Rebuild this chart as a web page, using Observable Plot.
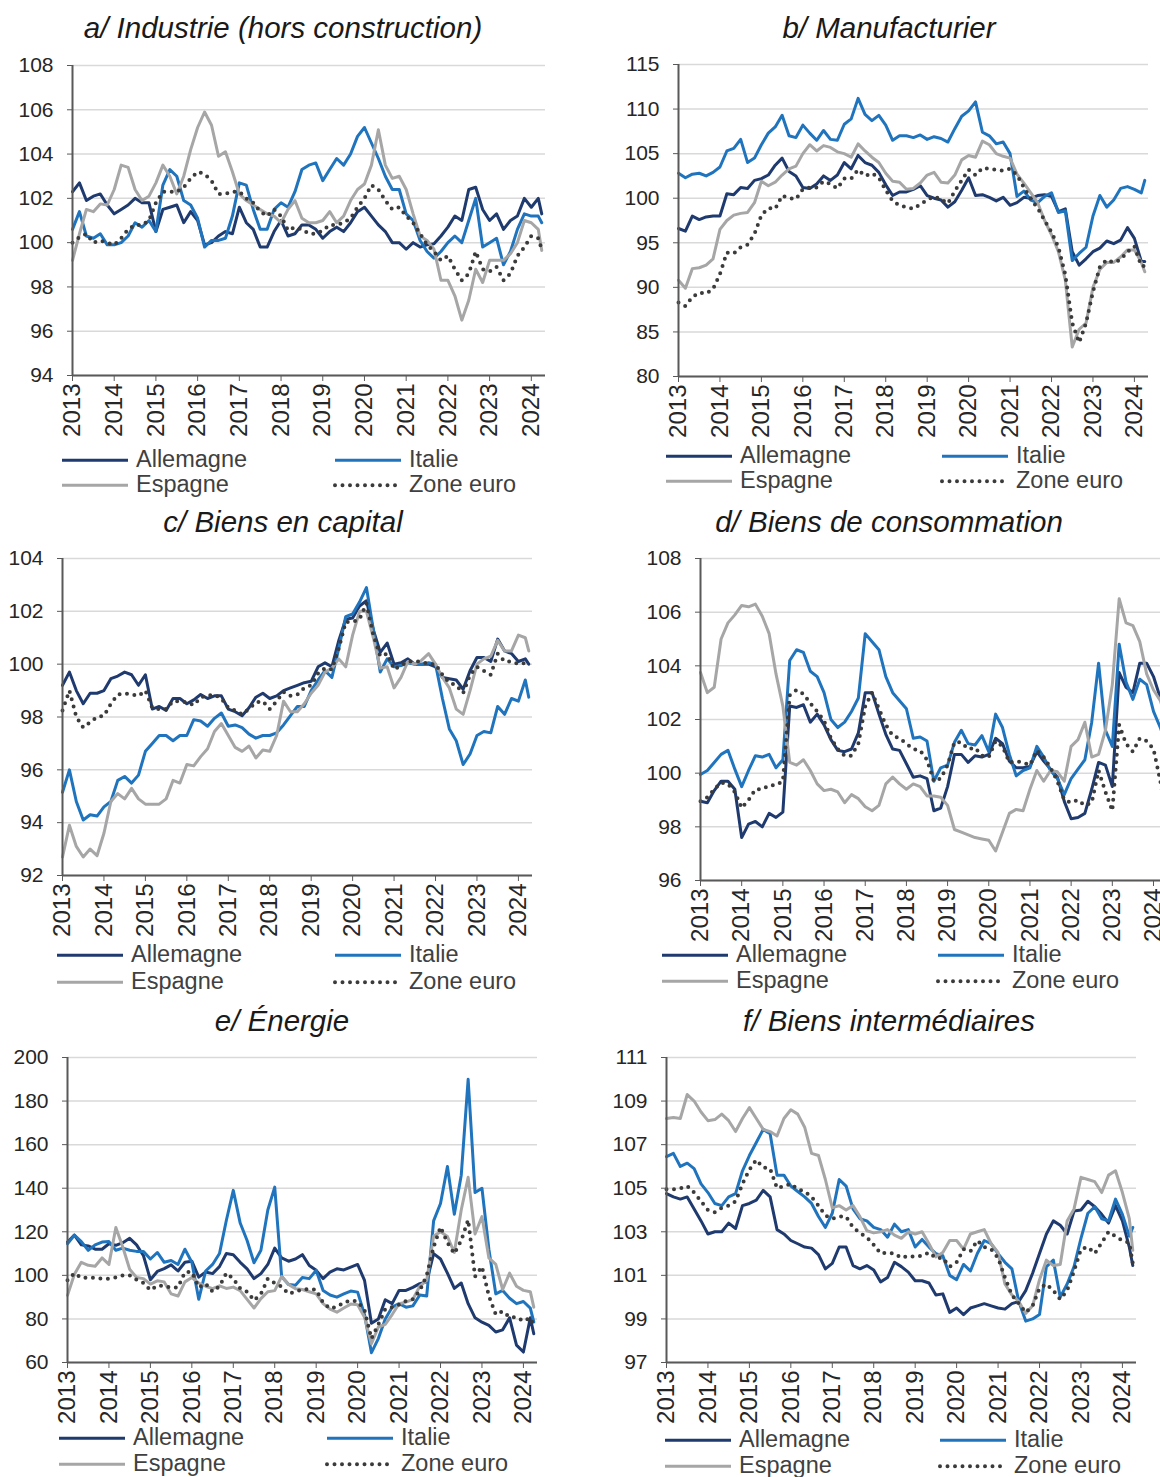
<!DOCTYPE html>
<html lang="fr">
<head>
<meta charset="utf-8">
<script src="https://cdn.jsdelivr.net/npm/d3@7"></script>
<script src="https://cdn.jsdelivr.net/npm/@observablehq/plot@0.6"></script>
<style>
  html, body { margin: 0; padding: 0; background: #fff; overflow: hidden; }
  body { width: 1160px; height: 1477px; position: relative; font-family: "Liberation Sans", Arial, sans-serif; }
  .title { position: absolute; font-style: italic; font-size: 29.5px; line-height: 1; color: #1a1a1a; white-space: nowrap; transform: translate(-50%, -50%); }
  .leg { position: absolute; display: flex; align-items: center; font-size: 23.5px; line-height: 1; color: #404040; white-space: nowrap; transform: translateY(-50%); }
  .leg svg { display: block; margin-right: 6px; }
</style>
</head>
<body>
<script>
// Month offsets from January 2013 (every second month, plus the last month available).
const MONTHS = d3.range(0, 135, 2).concat([135]);
const YEARS = [2013, 2014, 2015, 2016, 2017, 2018, 2019, 2020, 2021, 2022, 2023, 2024];
const SERIES = ["Allemagne", "Italie", "Espagne", "Zone euro"];

// a/ Industrie (hors construction)
const indDE = [102.3,102.7,101.9,102.1,102.2,101.7,101.3,101.5,101.7,102.0,101.8,101.8,100.5,101.5,101.6,101.7,100.9,101.4,101.0,99.9,100.0,100.3,100.5,100.4,101.6,100.9,100.6,99.8,99.8,100.5,101.0,100.3,100.4,100.8,100.8,100.6,100.2,100.5,100.7,100.5,100.9,101.4,101.6,101.2,100.8,100.5,100.0,100.0,99.7,100.0,99.8,99.9,99.95,100.3,100.7,101.2,101.0,102.4,102.5,101.5,101.0,101.3,100.6,101.0,101.2,102.0,101.6,102.0,101.3];
const indIT = [100.6,101.4,100.3,100.2,100.4,99.9,99.9,100.0,100.3,100.9,100.7,101.0,100.5,102.6,103.3,103.0,101.9,101.7,101.1,99.8,100.1,100.1,100.2,101.2,102.7,102.6,101.5,100.6,100.6,101.5,101.8,101.6,102.3,103.3,103.5,103.6,102.8,103.3,103.8,103.5,104.0,104.8,105.2,104.5,103.8,103.0,102.4,102.4,101.3,101.0,100.1,99.6,99.3,99.6,100.0,100.3,100.0,101.0,102.0,99.8,100.0,100.2,99.0,99.6,100.6,101.3,101.2,101.2,100.9];
const indES = [99.2,100.4,101.5,101.4,101.75,101.7,102.4,103.5,103.4,102.4,101.9,102.1,102.7,103.5,103.0,102.2,103.0,104.2,105.2,105.9,105.3,103.9,104.1,103.2,102.2,101.9,101.7,101.5,101.3,101.2,100.9,101.5,101.9,101.1,100.9,100.9,101.0,101.4,100.9,101.2,101.9,102.4,102.65,103.5,105.1,103.5,102.9,103.0,102.4,101.3,100.3,100.1,99.7,98.3,98.3,97.6,96.5,97.4,98.8,98.2,99.2,99.2,99.2,99.5,100.0,101.0,100.9,100.6,99.65];
const indEA = [100.0,100.25,100.4,100.0,100.1,100.0,99.9,100.2,100.6,100.8,100.8,101.0,101.8,102.3,102.3,102.3,102.5,102.9,103.2,103.1,102.8,102.2,102.2,102.3,102.3,102.0,101.8,101.4,101.2,101.5,101.2,100.55,100.7,100.6,100.4,100.4,100.55,100.8,100.8,100.9,101.1,101.6,102.0,102.6,102.4,101.9,101.5,101.6,101.2,100.9,100.4,99.9,99.6,99.2,99.4,98.8,98.3,98.6,99.6,98.8,98.7,98.9,98.3,98.6,99.4,99.8,100.3,100.2,99.7];

// b/ Manufacturier
const manDE = [96.6,96.3,98.0,97.6,97.9,98.0,98.0,100.5,100.4,101.2,101.1,102.0,102.2,102.6,103.7,104.5,103.0,102.5,101.2,101.1,101.6,102.5,102.0,102.6,104.0,103.3,104.8,104.0,103.7,102.9,101.5,100.3,100.7,100.7,101.0,101.4,100.3,100.0,99.8,99.0,99.6,100.9,102.3,100.3,100.4,100.1,99.7,100.1,99.2,99.5,100.1,100.0,100.3,100.4,100.2,98.5,98.8,94.0,92.5,93.2,94.0,94.4,95.2,94.9,95.3,96.7,95.5,92.9,92.9];
const manIT = [102.8,102.3,102.7,102.8,102.5,102.9,103.5,105.3,105.6,106.6,104.0,104.5,106.0,107.3,108.0,109.3,107.0,106.8,108.2,107.3,106.5,107.6,106.6,106.5,108.3,108.9,111.2,109.4,108.7,109.3,108.2,106.5,107.0,107.0,106.8,107.1,106.6,106.9,106.7,106.3,107.8,109.2,109.8,110.8,107.4,107.0,106.1,106.3,105.0,100.2,100.8,99.8,99.5,100.2,100.6,98.4,98.6,93.0,93.8,94.5,98.0,100.3,99.0,99.8,101.1,101.3,101.0,100.6,102.0];
const manES = [90.8,89.9,92.1,92.2,92.5,93.2,96.5,97.5,98.1,98.3,98.4,99.5,101.9,101.4,101.8,102.6,103.3,103.6,105.0,106.0,105.3,105.9,105.7,105.2,105.0,104.6,106.1,105.3,104.6,104.0,102.8,101.9,101.8,101.0,101.1,101.7,102.6,102.9,101.8,101.7,102.6,104.3,104.8,104.6,106.4,106.0,105.0,104.7,104.5,102.7,101.7,100.6,99.5,97.5,95.9,94.0,90.8,83.3,85.3,86.0,90.0,92.0,92.8,92.8,93.4,94.2,94.2,92.8,91.75];
const manEA = [88.3,87.9,88.9,89.4,89.3,89.8,91.5,93.9,93.8,94.5,94.8,96.0,98.1,98.9,98.8,100.3,100.0,99.9,101.0,101.2,101.2,101.9,101.6,101.1,102.2,102.2,103.2,102.5,102.8,102.3,100.9,99.7,99.2,99.0,98.8,99.3,99.8,100.2,99.9,99.4,100.8,102.0,103.2,102.6,103.4,103.3,103.2,103.1,103.3,102.6,101.2,99.9,98.9,97.5,96.2,94.5,91.4,86.0,83.8,86.0,89.5,92.3,93.1,92.8,93.1,94.0,94.6,92.4,92.4];

// c/ Biens en capital
const capDE = [99.2,99.7,99.0,98.5,98.9,98.9,99.0,99.45,99.55,99.7,99.6,99.2,99.6,98.3,98.4,98.25,98.7,98.7,98.5,98.65,98.85,98.7,98.8,98.8,98.3,98.2,98.05,98.35,98.75,98.9,98.7,98.8,99.0,99.1,99.2,99.3,99.35,99.9,100.05,99.9,100.9,101.7,101.75,102.2,102.4,101.3,100.45,100.8,100.0,100.05,100.2,100.0,100.0,100.0,99.9,99.5,99.45,99.4,99.05,99.75,100.25,100.25,100.1,100.95,100.5,100.4,100.1,100.2,100.0];
const capIT = [95.15,96.0,94.8,94.1,94.3,94.25,94.6,94.8,95.6,95.75,95.5,95.8,96.7,97.0,97.3,97.3,97.1,97.3,97.3,97.9,97.85,97.65,97.95,98.15,97.65,97.7,97.6,97.35,97.2,97.3,97.3,97.4,97.7,98.05,98.4,98.4,99.0,99.4,99.75,99.5,100.6,101.8,101.9,102.35,102.9,101.3,99.7,100.2,99.9,99.95,100.05,100.0,100.0,100.05,100.0,98.7,97.55,97.1,96.2,96.6,97.3,97.45,97.4,98.4,98.1,98.7,98.6,99.4,98.75];
const capES = [92.7,93.9,93.1,92.7,93.0,92.75,93.6,94.8,95.1,94.9,95.3,94.9,94.7,94.7,94.7,94.9,95.6,95.5,96.2,96.15,96.5,96.8,97.45,97.75,97.3,96.85,96.7,96.9,96.45,96.75,96.7,97.3,98.6,98.2,98.2,98.5,98.9,99.2,99.7,99.85,100.2,99.9,101.1,102.0,102.0,101.0,99.85,99.9,99.1,99.5,100.1,100.0,100.15,100.4,100.0,99.5,99.1,98.3,98.1,99.0,100.0,100.2,100.3,100.9,100.5,100.5,101.1,101.0,100.5];
const capEA = [98.25,99.0,98.0,97.6,97.8,98.0,98.05,98.5,98.85,98.9,98.85,98.8,99.0,98.35,98.3,98.3,98.6,98.6,98.55,98.45,98.75,98.8,98.85,98.7,98.35,98.25,98.1,98.3,98.55,98.6,98.3,98.6,98.95,98.8,98.85,99.1,99.2,99.65,99.85,99.8,100.6,101.6,101.6,101.7,102.3,101.1,100.3,100.4,99.8,99.95,100.1,100.1,100.1,100.0,100.0,99.6,99.3,99.2,98.9,99.6,99.9,99.75,99.6,100.4,100.1,100.1,100.0,100.05,100.0];

// d/ Biens de consommation
const conDE = [98.95,98.9,99.35,99.7,99.7,99.4,97.6,98.1,98.2,98.0,98.5,98.35,98.55,102.5,102.45,102.55,101.9,102.2,101.8,101.25,100.85,100.8,100.9,101.5,103.0,103.0,102.2,101.45,100.9,100.85,100.35,99.85,99.9,99.8,98.6,98.7,99.5,100.7,100.7,100.4,100.65,100.6,100.7,101.3,101.1,100.45,100.2,100.2,100.25,100.8,100.45,100.15,99.85,98.95,98.3,98.35,98.5,99.4,100.4,100.3,99.5,103.75,103.2,103.0,104.1,104.1,103.6,102.8,102.5];
const conIT = [99.95,100.1,100.4,100.7,100.85,100.15,99.5,100.1,100.65,100.6,100.7,100.2,100.5,104.2,104.6,104.5,103.8,103.6,103.0,102.0,101.7,101.9,102.3,102.8,105.2,104.9,104.6,103.6,103.0,102.7,102.4,101.3,101.35,101.2,99.7,100.2,100.3,101.15,101.6,101.1,101.05,101.4,100.8,102.2,101.7,100.7,99.9,100.1,100.2,101.0,100.6,100.1,99.8,99.2,99.8,100.15,100.5,101.9,104.1,101.6,101.0,104.8,103.4,102.75,103.5,103.3,102.3,101.7,101.3];
const conES = [103.75,103.0,103.2,105.0,105.6,105.9,106.25,106.2,106.3,105.85,105.2,103.7,102.5,100.4,100.3,100.5,100.1,99.6,99.35,99.4,99.3,98.9,99.2,99.05,98.75,98.6,98.8,99.6,99.85,99.6,99.4,99.6,99.5,99.15,99.15,99.1,98.8,97.9,97.8,97.7,97.6,97.55,97.5,97.1,97.8,98.5,98.65,98.6,99.4,100.1,99.7,100.1,100.05,99.7,101.0,101.25,101.9,100.6,100.7,101.6,103.3,106.5,105.6,105.5,104.9,103.7,103.1,102.7,102.3];
const conEA = [98.95,99.1,99.4,99.65,99.6,99.3,98.7,99.0,99.4,99.4,99.55,99.55,99.7,102.9,103.1,102.95,102.6,102.3,101.95,101.3,100.9,100.65,100.65,101.1,102.5,103.0,102.4,101.8,101.4,101.3,101.1,100.9,100.85,100.5,99.7,99.8,100.3,101.15,101.15,100.9,100.95,100.65,100.6,101.2,101.0,100.4,100.45,100.4,100.3,100.85,100.6,100.2,99.7,99.0,98.9,99.0,98.8,98.9,100.1,99.3,98.6,101.8,101.1,100.8,101.3,101.2,100.9,99.7,99.0];

// e/ Énergie
const nrjDE = [115.3,118.5,114.0,113.5,112.0,112.0,114.5,113.8,115.0,117.0,114.0,109.0,98.0,101.8,103.1,104.8,102.0,106.0,106.5,99.2,101.5,100.8,104.0,110.0,109.5,106.0,103.0,98.5,100.8,105.0,112.5,108.0,106.5,107.5,109.5,104.5,102.3,98.5,101.5,103.0,102.5,103.8,105.0,97.7,78.0,80.0,88.8,87.0,93.1,93.1,94.5,96.2,97.0,110.0,107.5,101.0,94.0,96.5,87.0,80.5,78.5,77.0,74.0,75.0,80.5,68.0,64.8,80.5,73.2];
const nrjIT = [114.5,118.5,115.5,111.5,114.0,115.3,115.5,111.5,112.5,111.5,111.0,111.0,107.5,110.5,106.0,106.8,105.0,112.0,106.0,89.0,102.0,105.0,110.0,125.3,139.0,124.0,116.0,105.8,111.5,130.0,140.5,99.5,95.8,95.5,99.0,98.5,102.3,93.1,91.0,90.0,91.5,92.8,92.3,82.0,64.5,71.0,80.0,85.4,87.0,85.4,86.0,91.0,90.5,125.0,133.0,150.0,128.0,146.0,190.0,138.0,140.0,112.0,91.5,93.1,89.5,87.0,88.0,85.0,78.6];
const nrjES = [90.8,100.5,106.0,104.6,104.2,108.0,105.0,122.0,113.0,102.8,99.0,98.5,96.0,97.5,97.0,91.5,90.5,97.0,99.0,96.5,95.0,93.9,95.2,94.0,94.6,93.0,89.0,85.0,89.3,92.5,93.0,99.5,95.8,93.9,93.5,92.5,91.5,87.0,84.5,83.1,85.0,86.8,86.5,80.8,68.6,76.3,77.5,82.0,87.0,87.7,89.0,95.0,97.7,118.0,120.0,117.8,110.5,130.0,145.0,119.0,127.0,108.0,105.0,93.5,101.0,95.0,93.1,92.5,85.4];
const nrjEA = [97.7,101.0,98.8,99.0,98.8,98.5,98.5,99.0,100.0,100.0,98.0,96.5,93.2,95.3,95.1,94.3,94.5,101.5,101.5,94.5,96.2,92.5,95.0,101.0,98.5,94.0,92.5,88.5,91.5,98.5,96.5,94.8,91.5,92.5,93.5,93.8,93.4,87.5,84.8,85.5,87.5,88.5,88.0,84.0,71.0,77.5,84.5,85.4,86.5,88.2,89.0,93.0,100.0,113.0,122.2,115.0,110.0,116.0,125.5,99.5,104.0,90.5,82.0,83.5,80.8,80.8,79.0,80.5,77.0];

// f/ Biens intermédiaires
const intDE = [104.75,104.6,104.5,104.6,104.05,103.5,102.9,103.0,103.0,103.4,103.15,104.2,104.3,104.45,104.9,104.6,103.1,102.9,102.6,102.45,102.3,102.25,101.95,101.3,101.55,102.3,102.3,101.45,101.3,101.45,101.25,100.7,100.9,101.6,101.4,101.15,100.75,100.75,100.65,100.1,100.15,99.3,99.5,99.2,99.5,99.6,99.7,99.6,99.5,99.45,99.7,99.8,100.3,101.1,102.0,102.9,103.5,103.3,102.9,103.95,104.0,104.4,104.15,103.8,103.4,104.2,103.5,102.3,101.45];
const intIT = [106.45,106.6,106.0,106.15,105.9,105.2,104.8,104.3,104.2,104.6,104.75,105.8,106.5,107.1,107.7,107.5,105.6,105.6,105.1,104.85,104.6,104.3,103.7,103.2,103.85,105.4,105.1,104.05,103.6,103.5,103.2,103.1,102.75,103.35,103.0,103.1,102.3,102.65,102.3,102.0,101.9,101.0,100.8,101.5,101.2,102.0,102.6,102.45,102.0,101.6,101.3,99.8,98.9,99.0,99.2,101.4,101.7,100.0,100.6,101.4,102.7,103.85,104.15,103.6,103.5,104.5,103.8,102.8,103.2];
const intES = [108.2,108.25,108.2,109.3,109.0,108.5,108.1,108.15,108.4,108.1,107.6,108.2,108.7,108.2,107.7,107.6,107.4,108.2,108.6,108.4,107.8,106.6,106.5,105.4,104.1,104.2,104.0,104.2,103.7,103.05,102.95,103.0,103.1,102.85,102.7,103.0,102.9,103.0,102.45,101.85,102.05,102.6,102.6,102.2,102.9,103.0,103.1,102.45,102.05,100.6,100.1,99.8,99.25,99.6,100.8,101.7,101.45,101.5,103.5,104.05,105.5,105.4,105.3,104.8,105.6,105.8,104.8,103.6,102.15];
const intEA = [104.95,104.95,105.0,105.1,104.8,104.4,104.0,103.9,104.1,104.2,104.4,105.2,105.85,106.3,105.95,105.9,105.0,105.1,105.2,104.95,104.85,104.6,104.2,103.75,103.6,103.7,103.7,103.2,102.95,102.75,102.4,102.0,102.05,102.0,101.8,101.9,101.85,101.9,102.05,101.8,101.8,101.4,101.6,102.2,102.1,102.6,102.3,102.2,101.8,100.9,100.1,99.7,99.3,99.6,100.4,100.6,100.3,99.9,100.3,101.2,102.2,102.3,102.0,102.5,103.0,102.8,102.6,102.5,101.55];

// Y tick values of each panel
const ticksA = [94, 96, 98, 100, 102, 104, 106, 108];
const ticksB = [80, 85, 90, 95, 100, 105, 110, 115];
const ticksC = [92, 94, 96, 98, 100, 102, 104];
const ticksD = [96, 98, 100, 102, 104, 106, 108];
const ticksE = [60, 80, 100, 120, 140, 160, 180, 200];
const ticksF = [97, 99, 101, 103, 105, 107, 109, 111];

// Line styling per country
const LINE = {
  "Allemagne": {stroke: "#1f3a6e", strokeWidth: 3},
  "Italie":    {stroke: "#1f74bd", strokeWidth: 3},
  "Espagne":   {stroke: "#a6a6a6", strokeWidth: 3},
  "Zone euro": {stroke: "#3b3b3b", strokeWidth: 4, strokeDasharray: "0 7.5", strokeLinecap: "round"}
};

// Panel geometry: plot box [left, right, top, bottom] in page pixels
const PANELS = [
  {title: "a/ Industrie (hors construction)", series: [indDE, indIT, indES, indEA], ticks: ticksA,
   box: [72, 545, 65, 375], titleAt: [283, 28], legCols: [60, 333], legRows: [460, 485]},
  {title: "b/ Manufacturier", series: [manDE, manIT, manES, manEA], ticks: ticksB,
   box: [678, 1148, 64, 376], titleAt: [889, 28], legCols: [664, 940], legRows: [456, 481]},
  {title: "c/ Biens en capital", series: [capDE, capIT, capES, capEA], ticks: ticksC,
   box: [62, 532, 558, 875], titleAt: [283, 522], legCols: [55, 333], legRows: [955, 982]},
  {title: "d/ Biens de consommation", series: [conDE, conIT, conES, conEA], ticks: ticksD,
   box: [700, 1167, 558, 880], titleAt: [889, 522], legCols: [660, 936], legRows: [955, 981]},
  {title: "e/ Énergie", series: [nrjDE, nrjIT, nrjES, nrjEA], ticks: ticksE,
   box: [67, 537, 1057, 1362], titleAt: [282, 1021], legCols: [57, 325], legRows: [1438, 1464]},
  {title: "f/ Biens intermédiaires", series: [intDE, intIT, intES, intEA], ticks: ticksF,
   box: [666, 1136, 1057, 1362], titleAt: [889, 1021], legCols: [663, 938], legRows: [1440, 1466]}
];

const X_DOMAIN = [2013, 2024.34];

function drawPanel(p) {
  const [x0, x1, y0, y1] = p.box;
  const ml = 75, mr = 10, mt = 10, mb = 80;
  const rows = [];
  SERIES.forEach((name, k) => {
    p.series[k].forEach((v, i) => rows.push({name, t: 2013 + MONTHS[i] / 12, v}));
  });
  const yDomain = [p.ticks[0], p.ticks[p.ticks.length - 1]];
  const chart = Plot.plot({
    width: x1 - x0 + ml + mr,
    height: y1 - y0 + mt + mb,
    marginLeft: ml, marginRight: mr, marginTop: mt, marginBottom: mb,
    style: {fontFamily: '"Liberation Sans", Arial, sans-serif', fontSize: "21px", color: "#262626", background: "transparent", overflow: "visible"},
    x: {domain: X_DOMAIN, label: null},
    y: {domain: yDomain, label: null},
    marks: [
      Plot.gridY(p.ticks, {stroke: "#d9d9d9", strokeOpacity: 1, strokeWidth: 1.5}),
      ...SERIES.map(name => Plot.line(rows.filter(d => d.name === name), {x: "t", y: "v", ...LINE[name]})),
      Plot.ruleX([X_DOMAIN[0]], {stroke: "#595959", strokeWidth: 2}),
      Plot.ruleY([yDomain[0]], {stroke: "#595959", strokeWidth: 2}),
      Plot.axisY(p.ticks, {label: null, tickSize: 5, tickPadding: 14, stroke: "#595959", fontSize: 21}),
      Plot.axisX(YEARS, {label: null, tickSize: 6, tickPadding: 2, tickRotate: -90, tickFormat: d => String(d), stroke: "#595959", fontSize: 24})
    ]
  });
  chart.style.position = "absolute";
  chart.style.left = (x0 - ml) + "px";
  chart.style.top = (y0 - mt) + "px";
  document.body.appendChild(chart);

  const title = document.createElement("div");
  title.className = "title";
  title.textContent = p.title;
  title.style.left = p.titleAt[0] + "px";
  title.style.top = p.titleAt[1] + "px";
  document.body.appendChild(title);

  SERIES.forEach((name, k) => {
    const item = document.createElement("div");
    item.className = "leg";
    item.style.left = p.legCols[k % 2] + "px";
    item.style.top = p.legRows[Math.floor(k / 2)] + "px";
    const s = LINE[name];
    item.innerHTML =
      `<svg width="70" height="20"><line x1="2" x2="68" y1="10" y2="10" stroke="${s.stroke}" stroke-width="${s.strokeWidth}"` +
      (s.strokeDasharray ? ` stroke-dasharray="${s.strokeDasharray}" stroke-linecap="round"` : "") +
      `/></svg><span>${name}</span>`;
    document.body.appendChild(item);
  });
}

PANELS.forEach(drawPanel);
</script>
</body>
</html>
